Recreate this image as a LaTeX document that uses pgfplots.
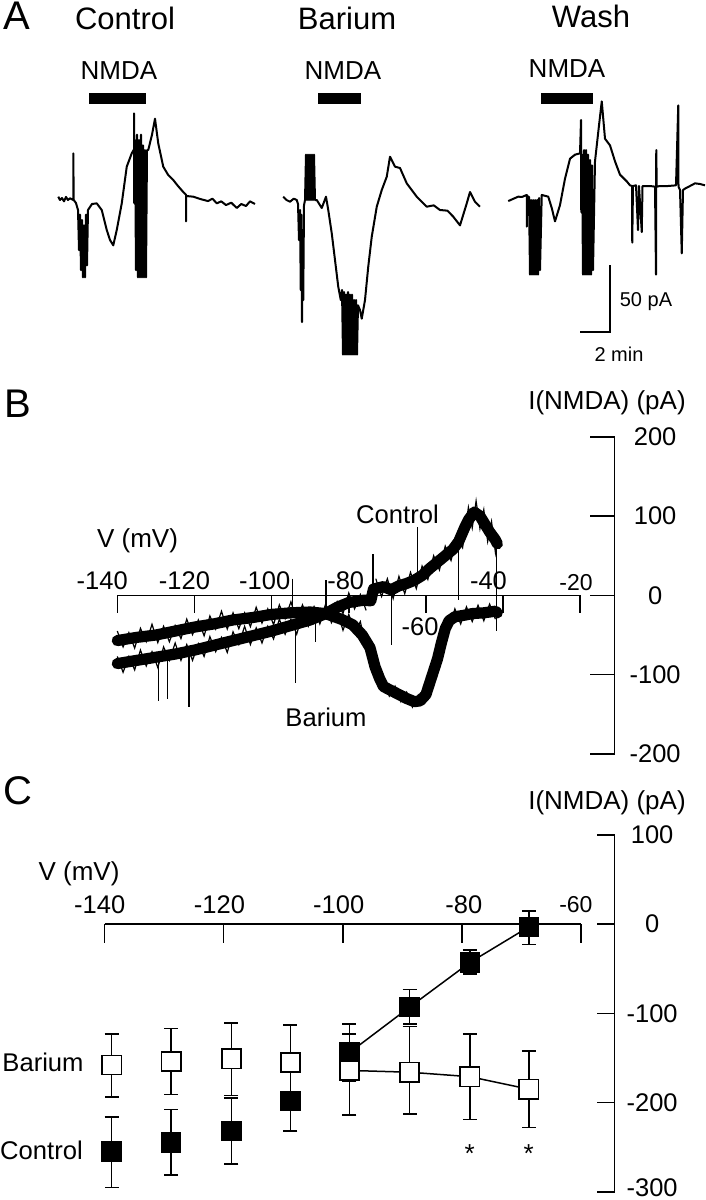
\documentclass[border=0pt]{standalone}
\usepackage{pgfplots}
\pgfplotsset{compat=1.18}
\usepackage{pgfplotstable}
\usepackage{fontspec}
\setmainfont{Liberation Sans}
\newcommand{\fs}[1]{\fontsize{#1}{#1}\selectfont}

% Panel C: mean I(NMDA) at each holding potential, with asymmetric error bars
\pgfplotstableread{
x y ep em
-138.8 -255 39 40
-128.8 -245 37 36
-118.7 -232 37 37
-108.8 -198 34 34
-98.9 -144 32 32
-88.8 -93 20 19
-78.7 -43 14 13
-68.8 -3 18 20
}\ctrlC
\pgfplotstableread{
x y ep em
-138.8 -158 35 36
-128.8 -154 37 37
-118.7 -151 40 41
-108.8 -155 42 40
-98.9 -164 41 50
-88.8 -166 51 47
-78.7 -171 48 48
-68.8 -185 43 43
}\bariumC

\begin{document}
\begin{tikzpicture}
% ================= Panel A =================
\begin{axis}[at={(0pt,-170pt)}, anchor=south west, scale only axis,
  width=353pt, height=120pt, xmin=0, xmax=2824, ymin=-105, ymax=75,
  hide axis, clip=false]
% NMDA application bars
\addplot[black, line width=5.6pt] coordinates {(356,76.3) (584,76.3)};
\addplot[black, line width=5.6pt] coordinates {(1272,76.3) (1444,76.3)};
\addplot[black, line width=5.6pt] coordinates {(2164,76.3) (2372,76.3)};
% Control trace
\addplot[black, line width=1pt, line join=round] coordinates {
(233,2.5)(240,0)(248,1.5)(256,-1)(264,2.3)(272,0)(280,1.3)(293,0)(293,35)(295,0)(304,-2.3)(312,-7.5)(316,-37.5)(320,-11)(324,-52.5)(328,-15)(332,-58)(336,-19)(340,-58)(344,-11)(348,-49)(352,-7.5)(368,-3)(387,-2.5)(407,-7.5)(427,-22.5)(440,-30)(453,-34)(467,-22.5)(487,-2.5)(507,25)(527,35)(536,38)(536,65)(536.5,-2.3)(540,45)(544,-52.5)(548,49)(552,-58)(556,45)(560,-58)(564,49)(568,-58)(572,41)(576,-58)(580,37.5)(584,-58)(588,37.5)(593,37.5)(608,49)(620,61)(633,42.5)(653,25)(672,19)(693,15)(712,10.5)(733,6)(744,4)(744,-16)(745,3)(773,2.5)(800,0.8)(832,-0.8)(850,1)(867,-2.5)(885,-1)(904,-3.8)(925,-2)(947,-6)(965,-3)(984,-4.5)(1000,-1)(1020,-3)};
% Barium trace
\addplot[black, line width=1pt, line join=round] coordinates {
(1133,2.5)(1146,0)(1160,-1.3)(1175,1)(1187,0)(1192,-3)(1196,-30)(1200,-7.5)(1203,-67.5)(1205,-11)(1208,-91.5)(1211,-22.5)(1213,-75)(1216,-4)(1220,0)(1224,34)(1228,0)(1232,34)(1236,0)(1240,34)(1244,0)(1248,34)(1252,0)(1256,34)(1260,0)(1267,0)(1287,-6)(1304,2.5)(1313,-7.5)(1327,-25)(1340,-45)(1353,-65)(1363,-75)(1368,-67.5)(1372,-116)(1376,-69)(1380,-116)(1384,-71)(1388,-116)(1392,-69)(1396,-116)(1400,-71)(1404,-116)(1408,-71)(1412,-116)(1416,-75)(1420,-116)(1424,-75)(1428,-116)(1432,-79)(1440,-82.5)(1447,-89)(1460,-75)(1473,-50)(1487,-27.5)(1507,-5)(1527,7.5)(1547,17.5)(1560,32.5)(1580,25)(1600,24)(1627,12.5)(1667,2.5)(1707,-5)(1735,-4)(1760,-7.5)(1790,-8)(1813,-12.5)(1840,-19)(1867,-2.5)(1880,6)(1900,-1.3)(1920,-5)};
% Wash trace
\addplot[black, line width=1pt, line join=round] coordinates {
(2033,-0.8)(2052,0.8)(2073,2.5)(2088,2.3)(2107,3.8)(2107,-20)(2108,3)(2116,2.3)(2120,-56)(2124,0)(2128,-56)(2132,0)(2136,-56)(2140,0)(2144,-56)(2148,0)(2152,-56)(2156,1.5)(2160,-52.5)(2167,3.8)(2193,2.5)(2207,-6)(2220,-16)(2240,-3.8)(2260,16)(2280,31)(2300,34)(2320,35)(2324,60)(2325,-9)(2328,34)(2332,-56)(2336,37.5)(2340,-56)(2344,37.5)(2348,-56)(2352,34)(2356,-56)(2360,30)(2364,-56)(2368,26)(2372,-52.5)(2380,29)(2393,51)(2407,74)(2420,46)(2440,41)(2460,29)(2480,19)(2507,14)(2520,11)(2528,10.5)(2529,-32)(2532,10.5)(2544,11)(2552,-22.5)(2556,10.5)(2567,-24)(2570,10.5)(2584,10.5)(2600,10.5)(2620,10)(2624,-56)(2625,37.5)(2627,10)(2640,10.5)(2672,10.5)(2704,11)(2713,71)(2714,10)(2720,7.5)(2727,-40)(2732,7.5)(2744,9)(2760,10.5)(2780,12.5)(2800,12)(2820,11)};
% scale bar: 2 min, 50 pA
\draw[black, line width=1pt] (axis cs:2320,-98.8) -- (axis cs:2440,-98.8) -- (axis cs:2440,-48.8);
\end{axis}

% ================= Panel B =================
\begin{axis}[at={(58.65pt,-377pt)}, anchor=south west, scale only axis,
  width=248.65pt, height=158.65pt, xmin=-140, xmax=-11.1, ymin=-200, ymax=200,
  hide axis, clip=false, unbounded coords=jump]
% axes
\draw[black, line width=0.8pt] (axis cs:-140,0) -- (axis cs:-20,0);
\foreach \t in {-140,-120,-100,-80,-60,-40,-20}{
  \edef\tmp{\noexpand\draw[black, line width=0.8pt] (axis cs:\t,0) -- (axis cs:\t,-22.7);}\tmp}
\draw[black, line width=0.8pt] (axis cs:-11.1,-200) -- (axis cs:-11.1,200);
\foreach \t in {-200,-100,0,100,200}{
  \edef\tmp{\noexpand\draw[black, line width=0.8pt] (axis cs:-11.1,\t) -- (axis cs:-17.5,\t);}\tmp}
% Barium ramp (mean course)
\addplot[black, line width=5.6pt, line join=round, line cap=round] coordinates {
(-140,-57)(-135,-53)(-130,-50)(-125,-45)(-120,-40)(-115,-36)(-110,-31)(-105,-28)(-100,-24)(-95,-22)(-90,-21)(-86,-23)(-82,-30)(-79,-37)(-76.5,-50)(-74.5,-66)(-73.2,-90)(-72,-105)(-71,-115)(-69,-120)(-67,-125)(-65,-130)(-63,-134)(-61.5,-133)(-60,-125)(-59,-110)(-58,-95)(-57,-80)(-56,-60)(-55,-42)(-54,-32)(-52.5,-27)(-50,-25)(-48,-23)(-45,-22)(-42,-20)(-41.5,-22)};
% Barium ramp (noise envelope)
\addplot[black, line width=0.6pt] coordinates {
(-140,-45)(-138.5,-65)(-137,-47)(-135.5,-66.5)(-134,-41.5)(-132.5,-58.5)(-131,-36.5)(-129.5,-59.5)(-128,-39)(-126.5,-58.5)(-125,-38)(-123.5,-54.5)(-122,-30)(-120.5,-49.5)(-119,-31)(-117.5,-51)(-116,-26)(-114.5,-42.5)(-113,-20)(-111.5,-42.5)(-110,-22)(-108.5,-42)(-107,-22)(-105.5,-39.5)(-104,-15)(-102.5,-35)(-101,-17)(-99.5,-37)(-98,-12)(-96.5,-29.5)(-95,-8)(-93.5,-31.5)(-92,-12)(-90.5,-33)(-89,-14.5)(-87.5,-33)(-86,-11)(-84.5,-34.5)(-83,-20)(-81.5,-44)(-80,-24)(-78.5,-46.5)(-77,-33)(-75.5,-68)(-74.5,-57)(-74.5,nan)
(-71,-107)(-69.5,-127)(-68,-114.5)(-66.5,-134)(-65,-122)(-63.5,-141)(-62,-125.5)(-60.5,-136)(-60.5,nan)
(-54,-42)(-52.5,-17)(-51,-36)(-49.5,-14.5)(-48,-33)(-46.5,-12.5)(-45,-32)(-43.5,-11)(-42,-30)};
% Control ramp (mean course)
\addplot[black, line width=5.6pt, line join=round, line cap=round] coordinates {
(-140,-86)(-135,-82)(-130,-78)(-125,-74)(-120,-69)(-115,-63)(-110,-57)(-105,-51)(-100,-45)(-95,-38)(-90,-31)(-86,-23)(-83,-15)(-80,-9)(-76,-6)(-74.3,-7)(-73.6,8)(-71,11)(-69,7)(-67,12)(-65,15)(-63,19)(-61,25)(-59,34)(-57,42)(-55,50)(-53,58)(-51.5,68)(-50,85)(-49,95)(-47.5,105)(-46,100)(-45,92)(-43.5,80)(-42,70)(-41.5,65)};
% Control ramp (noise envelope)
\addplot[black, line width=0.6pt] coordinates {
(-140,-77)(-138.5,-97)(-137,-77)(-135.5,-94)(-134,-69)(-132.5,-89)(-131,-71)(-129.5,-91)(-128,-65)(-126.5,-82)(-125,-60)(-123.5,-82)(-122,-62)(-120.5,-82)(-119,-61)(-117.5,-77)(-116,-52)(-114.5,-71)(-113,-53)(-111.5,-72)(-110,-46)(-108.5,-62)(-107,-39)(-105.5,-62)(-104,-41)(-102.5,-60)(-101,-39)(-99.5,-55)(-98,-30)(-96.5,-49)(-95,-30)(-93.5,-49)(-92,-23)(-90.5,-39)(-89,-15)(-87.5,-36)(-86,-14)(-84.5,-31)(-83,-8)(-81.5,-23)(-80,3)(-78.5,-17)(-77,1)(-75.5,-19)(-75.5,nan)
(-73,21)(-71.5,-1.5)(-70,21)(-68.5,-4)(-67,24)(-65.5,2)(-64,29)(-62.5,8.5)(-61,37)(-59.5,20)(-58,50)(-56.5,32)(-55,62)(-53.5,44)(-52,73)(-50.5,60)(-49,111)(-48,85)(-47,119)(-46,84)(-45,108)(-44,68)(-43,93)(-42,54)(-41.5,75)};
% transient spikes
\addplot[black, line width=0.6pt] coordinates {
(-129.3,-70)(-129.3,-133)(-129.3,nan)
(-127,-70)(-127,-131)(-127,nan)
(-121.4,-65)(-121.4,-141)(-121.4,nan)
(-94.6,21)(-94.6,-20)(-94.6,nan)
(-93.8,-40)(-93.8,-111)(-93.8,nan)
(-88.7,-30)(-88.7,-59)(-88.7,nan)
(-85.9,19)(-85.9,-15)(-85.9,nan)
(-73.7,52)(-73.7,0)(-73.7,nan)
(-68.9,0)(-68.9,-63)(-68.9,nan)
(-62.2,86)(-62.2,20)(-62.2,nan)
(-51.6,67)(-51.6,-6)(-51.6,nan)
(-41.8,60)(-41.8,-45)};
% tick labels
\node[inner sep=0pt, font=\fs{12.75}] at (axis cs:-143.9,18.9) {-140};
\node[inner sep=0pt, font=\fs{12.75}] at (axis cs:-122.6,18.9) {-120};
\node[inner sep=0pt, font=\fs{12.75}] at (axis cs:-101.8,18.9) {-100};
\node[inner sep=0pt, font=\fs{12.75}] at (axis cs:-80.8,18.9) {-80};
\node[inner sep=0pt, font=\fs{12.75}] at (axis cs:-61.5,-40) {-60};
\node[inner sep=0pt, font=\fs{12.75}] at (axis cs:-43.8,18.9) {-40};
\node[inner sep=0pt, font=\fs{11.5}] at (axis cs:-21.1,16) {-20};
\node[inner sep=0pt, font=\fs{12.75}] at (axis cs:-0.6,200) {200};
\node[inner sep=0pt, font=\fs{12.75}] at (axis cs:-0.6,100) {100};
\node[inner sep=0pt, font=\fs{12.75}] at (axis cs:-0.6,0) {0};
\node[inner sep=0pt, font=\fs{12.75}] at (axis cs:-0.6,-100) {-100};
\node[inner sep=0pt, font=\fs{12.75}] at (axis cs:-0.6,-200) {-200};
\end{axis}

% ================= Panel C =================
\begin{axis}[at={(52.25pt,-595.85pt)}, anchor=south west, scale only axis,
  width=255.05pt, height=178.35pt, xmin=-140, xmax=-54.4, ymin=-300, ymax=100,
  hide axis, clip=false]
\draw[black, line width=0.8pt] (axis cs:-140,0) -- (axis cs:-60,0);
\foreach \t in {-140,-120,-100,-80,-60}{
  \edef\tmp{\noexpand\draw[black, line width=0.8pt] (axis cs:\t,0) -- (axis cs:\t,-21.3);}\tmp}
\draw[black, line width=0.8pt] (axis cs:-54.4,-300) -- (axis cs:-54.4,100);
\foreach \t in {-300,-200,-100,0,100}{
  \edef\tmp{\noexpand\draw[black, line width=0.8pt] (axis cs:-54.4,\t) -- (axis cs:-57.4,\t);}\tmp}
% connecting lines
\addplot[black, line width=0.75pt] coordinates {(-98.9,-144)(-88.8,-93)(-78.7,-43)(-68.8,-3)};
\addplot[black, line width=0.75pt] coordinates {(-98.9,-164)(-88.8,-166)(-78.7,-171)(-68.8,-185)};
% Control (filled)
\addplot[black, only marks, mark=square*, mark size=4.8pt,
  mark options={fill=black, draw=black, line width=0.6pt},
  error bars/.cd, y dir=both, y explicit,
  error bar style={line width=0.75pt, black},
  error mark options={rotate=90, line width=0.75pt, mark size=3.5pt, black}]
  table[x=x, y=y, y error plus=ep, y error minus=em] {\ctrlC};
% Barium (open)
\addplot[black, only marks, mark=square*, mark size=4.8pt,
  mark options={fill=white, draw=black, line width=0.75pt},
  error bars/.cd, y dir=both, y explicit,
  error bar style={line width=0.75pt, black},
  error mark options={rotate=90, line width=0.75pt, mark size=3.5pt, black}]
  table[x=x, y=y, y error plus=ep, y error minus=em] {\bariumC};
% significance
\node[inner sep=0pt, font=\fs{13}, yshift=-3pt] at (axis cs:-78.7,-250) {*};
\node[inner sep=0pt, font=\fs{13}, yshift=-3pt] at (axis cs:-68.8,-250) {*};
% tick labels
\node[inner sep=0pt, font=\fs{12.75}] at (axis cs:-140.8,21.3) {-140};
\node[inner sep=0pt, font=\fs{12.75}] at (axis cs:-120.7,21.3) {-120};
\node[inner sep=0pt, font=\fs{12.75}] at (axis cs:-100.7,21.3) {-100};
\node[inner sep=0pt, font=\fs{12.75}] at (axis cs:-79.7,21.3) {-80};
\node[inner sep=0pt, font=\fs{11.5}] at (axis cs:-60.9,22.5) {-60};
\node[inner sep=0pt, font=\fs{12.75}] at (axis cs:-48.1,100) {100};
\node[inner sep=0pt, font=\fs{12.75}] at (axis cs:-48.1,0) {0};
\node[inner sep=0pt, font=\fs{12.75}] at (axis cs:-48.1,-100) {-100};
\node[inner sep=0pt, font=\fs{12.75}] at (axis cs:-48.1,-200) {-200};
\node[inner sep=0pt, font=\fs{12.75}] at (axis cs:-48.1,-295.5) {-300};
\end{axis}

% ================= free text (pixel grid, y down) =================
\begin{scope}[x=0.5pt, y=-0.5pt, every node/.style={inner sep=0pt}]
\node[font=\fs{20}] at (17,16) {A};
\node[font=\fs{15.5}] at (125,18.3) {Control};
\node[font=\fs{15.5}] at (347,18) {Barium};
\node[font=\fs{15.5}] at (591,16) {Wash};
\node[font=\fs{13}] at (119,71) {NMDA};
\node[font=\fs{13}] at (343,71) {NMDA};
\node[font=\fs{13}] at (567,68.5) {NMDA};
\node[font=\fs{10}] at (646,302) {50 pA};
\node[font=\fs{10}] at (619,354) {2 min};
\node[font=\fs{20}] at (18,404) {B};
\node[font=\fs{13}] at (607,403) {I(NMDA) (pA)};
\node[font=\fs{13}] at (137.5,541) {V (mV)};
\node[font=\fs{12.8}] at (397.5,514) {Control};
\node[font=\fs{12.8}] at (326,717) {Barium};
\node[font=\fs{20}] at (18,791) {C};
\node[font=\fs{13}] at (607,802.5) {I(NMDA) (pA)};
\node[font=\fs{13}] at (79,874) {V (mV)};
\node[font=\fs{12.8}] at (43,1062) {Barium};
\node[font=\fs{12.8}] at (41.5,1150) {Control};
\end{scope}
\pgfresetboundingbox
\path (0pt,0pt) rectangle (353pt,-600pt);
\end{tikzpicture}
\end{document}
